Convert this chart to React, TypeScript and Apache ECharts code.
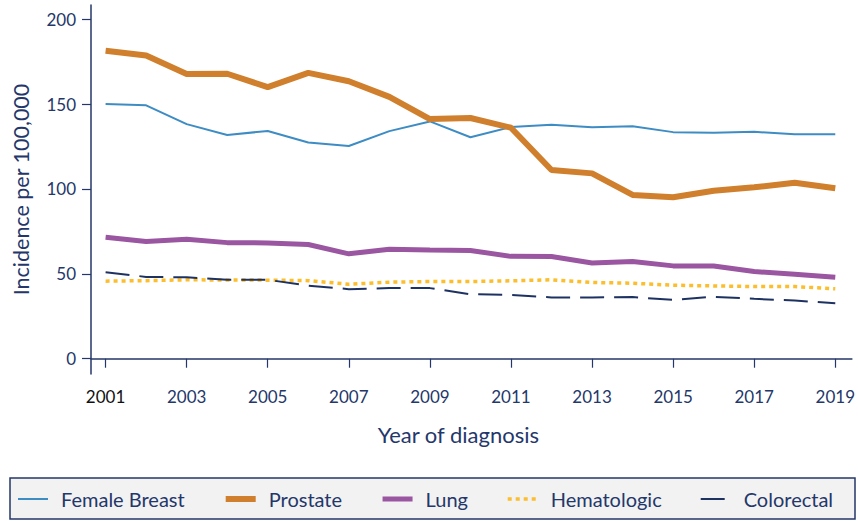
import React, { useEffect, useRef } from "react";
import * as echarts from "echarts";

const years = [2001, 2002, 2003, 2004, 2005, 2006, 2007, 2008, 2009, 2010, 2011, 2012, 2013, 2014, 2015, 2016, 2017, 2018, 2019];
const femaleBreast = [150, 149.3, 138.2, 131.8, 134.2, 127.4, 125.3, 134.1, 139.8, 130.5, 136.5, 137.9, 136.4, 136.9, 133.5, 133.1, 133.7, 132.2, 132.2];
const prostate = [181.4, 178.6, 167.8, 167.9, 160.0, 168.4, 163.5, 154.3, 141.2, 141.8, 136.1, 111.2, 109.2, 96.5, 95.1, 99.0, 101.0, 103.7, 100.4];
const lung = [71.6, 69.0, 70.4, 68.4, 68.2, 67.3, 61.8, 64.5, 64.1, 63.8, 60.3, 60.2, 56.4, 57.3, 54.7, 54.6, 51.4, 49.8, 48.0];
const hematologic = [45.7, 46.0, 46.5, 46.4, 46.3, 46.0, 43.9, 45.1, 45.5, 45.5, 45.9, 46.5, 44.9, 44.5, 43.3, 42.9, 42.5, 42.5, 41.2];
const colorectal = [51.0, 48.2, 48.0, 46.5, 46.5, 43.0, 41.0, 41.6, 41.6, 38.0, 37.6, 36.1, 36.1, 36.3, 34.7, 36.5, 35.3, 34.3, 32.7];
const xTicks = [2001, 2003, 2005, 2007, 2009, 2011, 2013, 2015, 2017, 2019];
const yTicks = [0, 50, 100, 150, 200];

const NAVY = "#24376a";
const FONT = "Lato, 'Open Sans', sans-serif";

function pairs(vals: number[]) {
  return years.map((y, i) => [y, vals[i]]);
}

export default function App() {
  const ref = useRef<HTMLDivElement>(null);
  useEffect(() => {
    if (!ref.current) return;
    const chart = echarts.init(ref.current, undefined, { renderer: "svg" });
    chart.setOption({
      animation: false,
      backgroundColor: "#ffffff",
      textStyle: { fontFamily: FONT },
      grid: { left: 91, top: 5, right: 4, bottom: 147, containLabel: false },
      graphic: [
        {
          type: "rect",
          z: -10,
          shape: { x: 10, y: 478, width: 845, height: 41 },
          style: { fill: "#f2f2f2", stroke: NAVY, lineWidth: 1.5 },
        },
      ],
      legend: {
        left: 12,
        top: 484,
        itemWidth: 30,
        itemHeight: 14,
        itemGap: 38,
        itemStyle: { opacity: 0 },
        lineStyle: { width: "inherit" },
        textStyle: { fontFamily: FONT, fontSize: 20, color: NAVY, padding: [0, 0, 0, 8] },
        data: ["Female Breast", "Prostate", "Lung", "Hematologic", "Colorectal"],
      },
      xAxis: {
        type: "value",
        min: 2000.64,
        max: 2019.41,
        name: "Year of diagnosis",
        nameLocation: "middle",
        nameGap: 49,
        nameTextStyle: { fontFamily: FONT, fontSize: 22, color: NAVY, padding: [0, 26, 0, 0] },
        splitLine: { show: false },
        axisLine: { show: true, lineStyle: { color: NAVY, width: 1.5 } },
        axisTick: { show: true, length: 9, lineStyle: { color: NAVY, width: 1.2 }, customValues: xTicks },
        axisLabel: {
          customValues: xTicks,
          margin: 14,
          fontSize: 17,
          fontFamily: FONT,
          color: (v: any) => (Number(v) === 2001 ? "#111111" : NAVY),
          formatter: (v: number) => String(v),
        },
      },
      yAxis: {
        type: "value",
        min: -9,
        max: 208.4,
        name: "Incidence per 100,000",
        nameLocation: "middle",
        nameGap: 59,
        nameTextStyle: { fontFamily: FONT, fontSize: 21.5, color: NAVY },
        splitLine: { show: false },
        axisLine: { show: true, lineStyle: { color: NAVY, width: 1.5 } },
        axisTick: { show: true, length: 9, lineStyle: { color: NAVY, width: 1.2 }, customValues: yTicks },
        axisLabel: {
          customValues: yTicks,
          margin: 15,
          fontSize: 17,
          fontFamily: FONT,
          color: NAVY,
          formatter: (v: number) => String(v),
        },
      },
      series: [
        {
          name: "Female Breast",
          type: "line",
          symbol: "none",
          data: pairs(femaleBreast),
          itemStyle: { color: "#3d8cc4" },
          lineStyle: { color: "#3d8cc4", width: 2 },
        },
        {
          name: "Prostate",
          type: "line",
          symbol: "none",
          data: pairs(prostate),
          itemStyle: { color: "#d07f2c" },
          lineStyle: { color: "#d07f2c", width: 6 },
        },
        {
          name: "Lung",
          type: "line",
          symbol: "none",
          data: pairs(lung),
          itemStyle: { color: "#9a56a1" },
          lineStyle: { color: "#9a56a1", width: 5 },
        },
        {
          name: "Hematologic",
          type: "line",
          symbol: "none",
          data: pairs(hematologic),
          itemStyle: { color: "#fcbe2c" },
          lineStyle: { color: "#fcbe2c", width: 3.5, type: [4, 4] },
        },
        {
          name: "Colorectal",
          type: "line",
          symbol: "none",
          data: pairs(colorectal),
          itemStyle: { color: "#1e3262" },
          lineStyle: { color: "#1e3262", width: 2, type: [24, 10] },
        },
      ],
    });
    return () => chart.dispose();
  }, []);
  return <div ref={ref} style={{ width: 858, height: 521, position: "absolute", left: 0, top: 0 }} />;
}
